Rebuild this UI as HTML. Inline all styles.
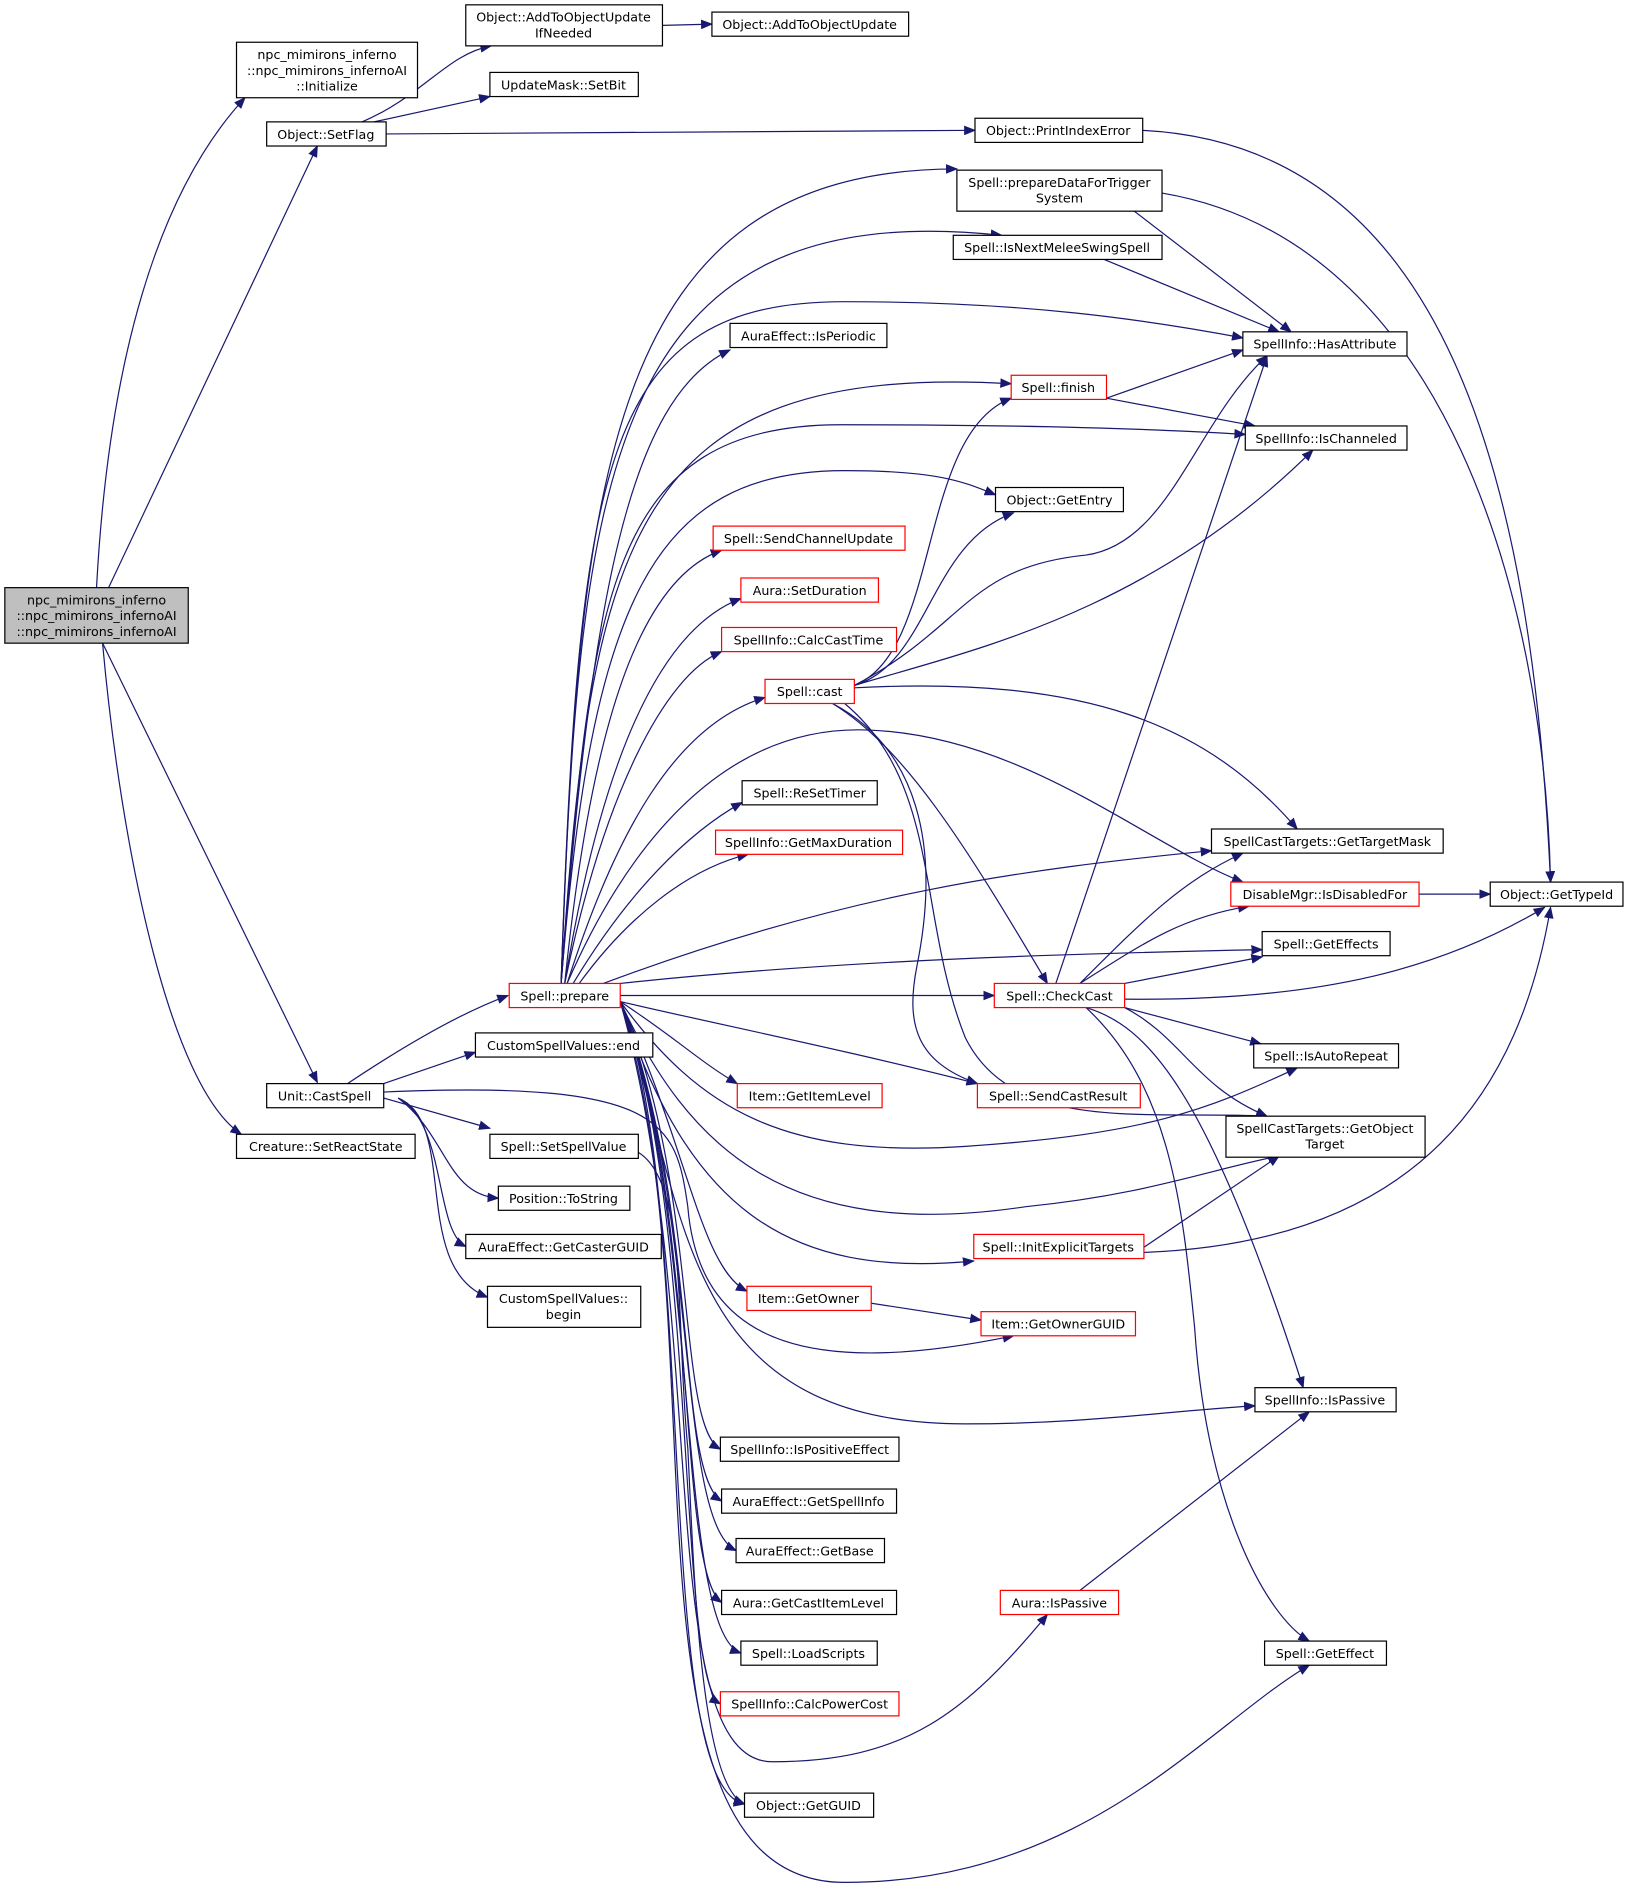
<!DOCTYPE html>
<html><head><meta charset="utf-8"><style>
html,body{margin:0;padding:0;background:#fff;}
svg{display:block;}
text{font-family:"DejaVu Sans","Liberation Sans",sans-serif;font-size:10.5px;fill:#000;text-anchor:middle;}
.n{fill:#fff;stroke:#000;stroke-width:1;}
.r{fill:#fff;stroke:#ff0000;stroke-width:1;}
.g{fill:#bfbfbf;stroke:#000;stroke-width:1;}
path{fill:none;stroke:#191970;stroke-width:1;marker-end:url(#a);}
</style></head><body>
<svg width="1629" height="1894" viewBox="0 0 1350 1569.6" xmlns="http://www.w3.org/2000/svg">
<defs><marker id="a" markerWidth="10" markerHeight="8" refX="9" refY="4" orient="auto" markerUnits="userSpaceOnUse"><polygon points="0,0 10,4 0,8" fill="#191970"/></marker></defs>

<!-- edges -->
<path d="M80,487 C90,300 130,160 203,81"/>
<path d="M90,487 L263,121"/>
<path d="M85,533 L263,897"/>
<path d="M85,533 C100,700 140,900 200,940"/>
<path d="M300,101 C350,80 370,45 407,38"/>
<path d="M310,101 L406,80"/>
<path d="M320,111 L808,108"/>
<path d="M549,21 L590,20"/>
<path d="M946,108 C1200,120 1270,400 1285,731"/>
<path d="M963,160 C1200,200 1280,500 1285,731"/>
<path d="M940,175 L1070,275"/>
<path d="M915,215 L1060,275"/>
<path d="M917,330 L1030,290"/>
<path d="M917,330 L1040,353"/>
<path d="M288,898 C330,870 380,840 421,825"/>
<path d="M318,898 L394,872"/>
<path d="M318,905 C550,895 560,930 570,1000 C580,1120 680,1140 840,1107"/>
<path d="M318,910 L406,935"/>
<path d="M330,910 C370,940 370,990 413,993"/>
<path d="M330,910 C370,930 360,1020 386,1033"/>
<path d="M330,910 C380,930 340,1050 404,1075"/>
<path d="M696,1076 L813,1094"/>
<path d="M946,1035 L1060,958"/>
<path d="M946,1038 C1180,1030 1260,900 1285,752"/>
<path d="M895,1318 L1085,1170"/>
<path d="M1176,741 L1235,741"/>
<path d="M529,955 C570,980 560,1100 570,1200 C575,1300 580,1480 617,1495"/>

<!-- prepare edges -->
<path d="M465,815 C480,400 500,140 793,140"/>
<path d="M465,815 C480,400 500,160 830,195"/>
<path d="M465,815 C480,380 500,250 700,250 C850,250 950,265 1030,280"/>
<path d="M465,815 C490,500 520,330 605,290"/>
<path d="M465,815 C490,450 520,300 838,318"/>
<path d="M465,815 C490,500 500,350 700,352 C850,352 950,355 1032,360"/>
<path d="M465,815 C490,500 540,390 700,390 C780,390 800,400 825,410"/>
<path d="M468,815 C490,600 530,480 598,456"/>
<path d="M468,815 C500,620 550,520 614,496"/>
<path d="M468,815 C500,660 550,560 598,540"/>
<path d="M470,815 C510,690 560,600 634,578"/>
<path d="M470,815 C520,700 600,600 720,605 C850,610 950,700 1030,731"/>
<path d="M475,815 C520,740 570,690 615,665"/>
<path d="M480,815 C520,760 570,720 620,708"/>
<path d="M500,815 C700,740 850,720 1004,705"/>
<path d="M514,815 C700,795 900,790 1046,787"/>
<path d="M514,825 L824,825"/>
<path d="M514,830 C600,850 700,870 810,898"/>
<path d="M514,830 C560,860 580,880 611,898"/>
<path d="M514,830 C580,920 650,960 800,950 C950,940 1000,920 1075,885"/>
<path d="M514,830 C570,950 650,1030 850,1000 C950,990 1000,970 1060,958"/>
<path d="M514,830 C570,1000 650,1060 807,1045"/>
<path d="M514,830 C570,950 580,1050 619,1070"/>
<path d="M514,830 C570,1000 560,1180 800,1180 C900,1180 960,1170 1040,1165"/>
<path d="M514,830 C580,980 560,1180 597,1201"/>
<path d="M514,830 C580,1000 560,1220 598,1244"/>
<path d="M514,830 C580,1000 560,1260 610,1285"/>
<path d="M514,830 C580,1000 560,1300 598,1328"/>
<path d="M514,830 C580,1000 560,1350 614,1370"/>
<path d="M514,830 C580,1000 560,1390 597,1412"/>
<path d="M514,830 C580,1000 540,1480 617,1495"/>
<path d="M514,830 C590,1100 540,1460 640,1460 C750,1460 800,1420 868,1338"/>
<path d="M514,830 C600,1100 500,1560 700,1560 C900,1560 1000,1430 1085,1380"/>

<!-- cast edges -->
<path d="M708,568 C780,540 760,360 838,330"/>
<path d="M708,568 C770,550 770,450 840,425"/>
<path d="M708,568 C800,520 800,470 900,460 C970,450 990,350 1050,295"/>
<path d="M708,568 C800,540 950,510 1088,373"/>
<path d="M708,570 C900,560 1000,600 1075,687"/>
<path d="M690,583 C750,620 800,700 868,815"/>
<path d="M690,583 C760,620 780,700 760,800 C750,850 760,880 810,898"/>
<path d="M700,583 C780,650 760,760 800,860 C840,940 950,920 1050,925"/>

<!-- checkcast edges -->
<path d="M875,815 L1050,295"/>
<path d="M895,815 C950,760 980,730 1030,707"/>
<path d="M895,815 C950,780 980,760 1035,751"/>
<path d="M932,815 L1046,793"/>
<path d="M932,828 C1100,830 1200,800 1280,752"/>
<path d="M932,835 L1045,865"/>
<path d="M932,835 C980,860 990,900 1050,925"/>
<path d="M900,835 C950,850 1000,900 1080,1150"/>
<path d="M900,835 C970,900 980,1000 990,1100 C1000,1250 1050,1340 1085,1360"/>

<!-- nodes -->
<rect class="g" x="4" y="487" width="152" height="46"/>
<text x="80" y="501">npc_mimirons_inferno</text><text x="80" y="514">::npc_mimirons_infernoAI</text><text x="80" y="527">::npc_mimirons_infernoAI</text>

<rect class="n" x="196" y="35" width="150" height="46"/>
<text x="271" y="49">npc_mimirons_inferno</text><text x="271" y="62">::npc_mimirons_infernoAI</text><text x="271" y="75">::Initialize</text>

<rect class="n" x="221" y="101" width="99" height="20"/><text x="270" y="115">Object::SetFlag</text>
<rect class="n" x="386" y="4" width="163" height="34"/><text x="467" y="18">Object::AddToObjectUpdate</text><text x="467" y="31">IfNeeded</text>
<rect class="n" x="590" y="10" width="163" height="20"/><text x="671" y="24">Object::AddToObjectUpdate</text>
<rect class="n" x="406" y="60" width="123" height="20"/><text x="467" y="74">UpdateMask::SetBit</text>
<rect class="n" x="808" y="98" width="139" height="20"/><text x="877" y="112">Object::PrintIndexError</text>
<rect class="n" x="793" y="141" width="170" height="34"/><text x="878" y="155">Spell::prepareDataForTrigger</text><text x="878" y="168">System</text>
<rect class="n" x="790" y="195" width="173" height="20"/><text x="876" y="209">Spell::IsNextMeleeSwingSpell</text>
<rect class="n" x="1030" y="275" width="136" height="20"/><text x="1098" y="289">SpellInfo::HasAttribute</text>
<rect class="n" x="605" y="268" width="130" height="20"/><text x="670" y="282">AuraEffect::IsPeriodic</text>
<rect class="r" x="838" y="311" width="79" height="20"/><text x="877" y="325">Spell::finish</text>
<rect class="n" x="1032" y="353" width="134" height="20"/><text x="1099" y="367">SpellInfo::IsChanneled</text>
<rect class="n" x="825" y="404" width="106" height="20"/><text x="878" y="418">Object::GetEntry</text>
<rect class="r" x="591" y="436" width="159" height="20"/><text x="670" y="450">Spell::SendChannelUpdate</text>
<rect class="r" x="614" y="479" width="114" height="20"/><text x="671" y="493">Aura::SetDuration</text>
<rect class="r" x="598" y="520" width="145" height="20"/><text x="670" y="534">SpellInfo::CalcCastTime</text>
<rect class="r" x="634" y="563" width="74" height="20"/><text x="671" y="577">Spell::cast</text>
<rect class="n" x="615" y="647" width="112" height="20"/><text x="671" y="661">Spell::ReSetTimer</text>
<rect class="r" x="593" y="688" width="155" height="20"/><text x="670" y="702">SpellInfo::GetMaxDuration</text>
<rect class="n" x="1004" y="687" width="192" height="20"/><text x="1100" y="701">SpellCastTargets::GetTargetMask</text>
<rect class="r" x="1020" y="731" width="156" height="20"/><text x="1098" y="745">DisableMgr::IsDisabledFor</text>
<rect class="n" x="1235" y="731" width="110" height="20"/><text x="1290" y="745">Object::GetTypeId</text>
<rect class="n" x="1046" y="772" width="106" height="20"/><text x="1099" y="786">Spell::GetEffects</text>
<rect class="r" x="422" y="815" width="92" height="20"/><text x="468" y="829">Spell::prepare</text>
<rect class="r" x="824" y="815" width="108" height="20"/><text x="878" y="829">Spell::CheckCast</text>
<rect class="n" x="394" y="856" width="147" height="20"/><text x="467" y="870">CustomSpellValues::end</text>
<rect class="n" x="1039" y="865" width="120" height="20"/><text x="1099" y="879">Spell::IsAutoRepeat</text>
<rect class="n" x="221" y="898" width="97" height="20"/><text x="269" y="912">Unit::CastSpell</text>
<rect class="r" x="611" y="898" width="120" height="20"/><text x="671" y="912">Item::GetItemLevel</text>
<rect class="r" x="810" y="898" width="135" height="20"/><text x="877" y="912">Spell::SendCastResult</text>
<rect class="n" x="1016" y="925" width="165" height="34"/><text x="1098" y="939">SpellCastTargets::GetObject</text><text x="1098" y="952">Target</text>
<rect class="n" x="196" y="940" width="148" height="20"/><text x="270" y="954">Creature::SetReactState</text>
<rect class="n" x="406" y="940" width="123" height="20"/><text x="467" y="954">Spell::SetSpellValue</text>
<rect class="n" x="413" y="983" width="109" height="20"/><text x="467" y="997">Position::ToString</text>
<rect class="n" x="386" y="1023" width="162" height="20"/><text x="467" y="1037">AuraEffect::GetCasterGUID</text>
<rect class="r" x="807" y="1023" width="141" height="20"/><text x="877" y="1037">Spell::InitExplicitTargets</text>
<rect class="n" x="404" y="1066" width="127" height="34"/><text x="467" y="1080">CustomSpellValues::</text><text x="467" y="1093">begin</text>
<rect class="r" x="619" y="1066" width="103" height="20"/><text x="670" y="1080">Item::GetOwner</text>
<rect class="r" x="813" y="1087" width="128" height="20"/><text x="877" y="1101">Item::GetOwnerGUID</text>
<rect class="n" x="1040" y="1150" width="117" height="20"/><text x="1098" y="1164">SpellInfo::IsPassive</text>
<rect class="n" x="597" y="1191" width="148" height="20"/><text x="671" y="1205">SpellInfo::IsPositiveEffect</text>
<rect class="n" x="598" y="1234" width="145" height="20"/><text x="670" y="1248">AuraEffect::GetSpellInfo</text>
<rect class="n" x="610" y="1275" width="123" height="20"/><text x="671" y="1289">AuraEffect::GetBase</text>
<rect class="n" x="598" y="1318" width="145" height="20"/><text x="670" y="1332">Aura::GetCastItemLevel</text>
<rect class="r" x="829" y="1318" width="98" height="20"/><text x="878" y="1332">Aura::IsPassive</text>
<rect class="n" x="614" y="1360" width="113" height="20"/><text x="670" y="1374">Spell::LoadScripts</text>
<rect class="n" x="1048" y="1360" width="101" height="20"/><text x="1098" y="1374">Spell::GetEffect</text>
<rect class="r" x="597" y="1402" width="148" height="20"/><text x="671" y="1416">SpellInfo::CalcPowerCost</text>
<rect class="n" x="617" y="1486" width="107" height="20"/><text x="670" y="1500">Object::GetGUID</text>
</svg>
</body></html>
